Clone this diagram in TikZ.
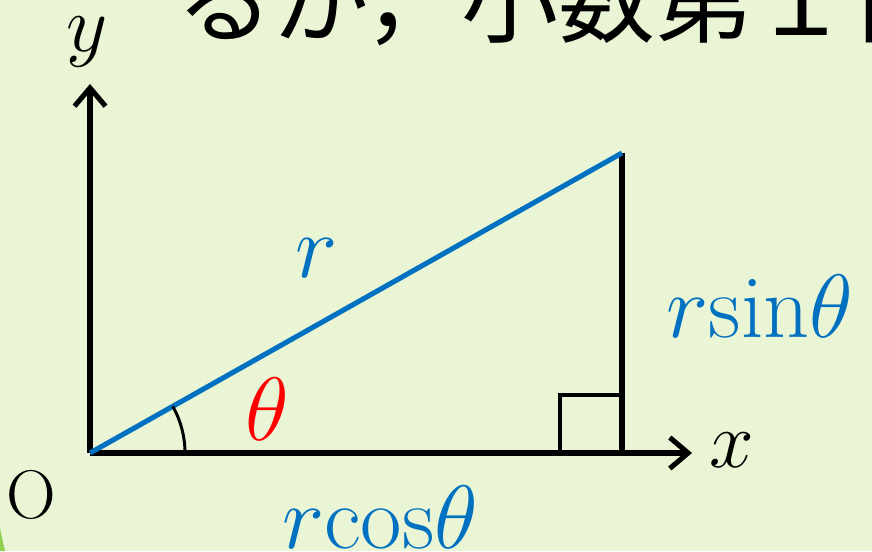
\RequirePackage{fix-cm}
\documentclass[tikz,border=0pt]{standalone}
\usepackage{fontspec}
\usepackage{amsmath}
\usetikzlibrary{arrows.meta, positioning, calc}
\newfontfamily\jpfont{Noto Sans CJK JP}
\definecolor{bggreen}{RGB}{233,245,213}
\definecolor{lineblue}{RGB}{0,112,192}
\definecolor{leafgreen}{RGB}{146,208,80}

\begin{document}
\begin{tikzpicture}[x=0.025cm, y=0.025cm,
        axis/.style={line width=3.6pt, -{Straight Barb[length=13pt, width=22pt, line width=3.6pt]}},
        side/.style={line width=3.6pt},
        hyp/.style={line width=3.6pt, color=lineblue},
        rtmark/.style={line width=2.5pt},
        biglab/.style={font=\fontsize{64}{70}\selectfont, inner sep=0pt, anchor=base},
        axlab/.style={font=\fontsize{57}{62}\selectfont, inner sep=0pt, anchor=base}
    ]
        % frame and background
        \useasboundingbox (0,0) rectangle (872,-551);
        \clip (0,0) rectangle (872,-551);
        \fill[bggreen] (0,0) rectangle (872,-551);
        \fill[leafgreen] (0,-528) .. controls (2,-538) .. (5,-551) -- (0,-551) -- cycle;

        % cut-off line of text at the top
        \node[font=\jpfont\fontsize{69}{74}\selectfont, inner sep=0pt, anchor=base west] (txt) at (176,-36) {るが，小数第１位};

        % corners of the triangle
        \coordinate (O) at (90,-453);
        \coordinate (P) at (622,-153);
        \coordinate (Q) at (622,-453);
        \coordinate (xend) at (692,-453);
        \coordinate (yend) at (90,-84);
        \coordinate (sqA) at (560,-453);
        \coordinate (sqB) at (622,-395);

        % axes
        \draw[axis] (O) -- (xend);
        \draw[axis] (O) -- (yend);

        % triangle
        \draw[side] (Q) -- (P);
        \draw[hyp] (O) -- (P);
        \draw[rtmark] (sqA) |- (sqB);
        \draw[line width=2.1pt] ($(O)+(95,0)$) arc[start angle=0, end angle=29.4, radius=95];

        % labels
        \node[axlab] (ylab) at (87,-52) {$y$};
        \node[axlab] (xlab) at (732,-467) {$x$};
        \node[font=\fontsize{49}{54}\selectfont, inner sep=0pt, anchor=base] (olab) at (31,-518) {O};
        \node[biglab, lineblue] (rlab) at (317,-277) {$r$};
        \node[biglab, red] (tlab) at (267,-440) {$\theta$};
        \node[biglab, lineblue] (sinlab) at (760,-337) {$r\mathrm{sin}\theta$};
        \node[biglab, lineblue] (coslab) at (380,-548) {$r\mathrm{cos}\theta$};

    \end{tikzpicture}
\end{document}
